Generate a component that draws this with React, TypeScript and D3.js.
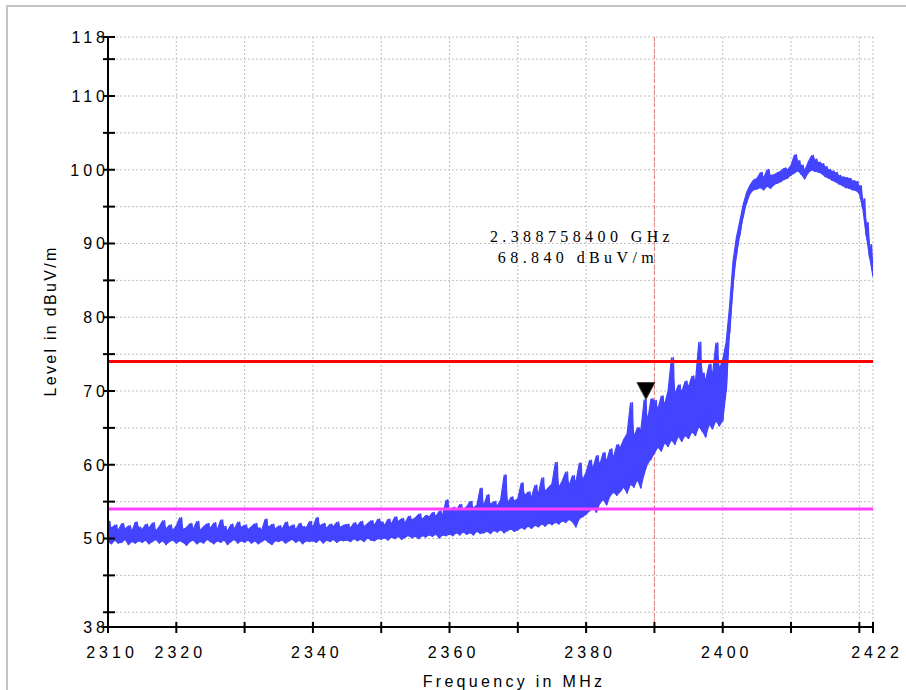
import React from "react";
import * as d3 from "d3";

// ---- data ----
const startFreq = 2310; // MHz
const stepFreq = 0.5; // MHz between samples

// lower edge of the noise band per 0.5 MHz (dBuV/m)
const floorLevels = [
  49.6, 49.3, 49.8, 49.4, 49.5, 49.9, 49.2, 49.6, 49.4, 49.7,
  49.5, 49.8, 49.3, 49.6, 49.9, 49.4, 49.7, 49.2, 49.6, 49.8,
  49.4, 49.7, 49.5, 49.1, 49.6, 49.8, 49.3, 49.6, 49.4, 49.9,
  49.6, 49.3, 49.7, 49.5, 49.8, 49.2, 49.6, 49.9, 49.4, 49.7,
  49.5, 49.8, 49.4, 49.7, 49.3, 49.6, 49.9, 49.5, 49.2, 49.7,
  49.6, 49.8, 49.4, 49.7, 49.9, 49.5, 49.8, 49.3, 49.7, 49.6,
  49.7, 49.5, 49.9, 49.4, 49.8, 49.6, 49.9, 49.5, 49.8, 49.7,
  49.8, 49.6, 50.0, 49.7, 49.9, 49.6, 50.1, 49.8, 49.7, 50.0,
  49.9, 50.1, 49.8, 50.2, 50.0, 50.3, 49.9, 50.2, 50.4, 50.1,
  50.3, 50.0, 50.4, 50.2, 50.5, 50.3, 50.6, 50.1, 50.5, 50.4,
  50.6, 50.4, 50.8, 50.5, 50.9, 50.6, 50.8, 50.5, 51.0, 50.7,
  50.8, 51.0, 50.7, 51.1, 50.9, 51.2, 50.8, 51.1, 51.3, 51.0,
  51.2, 51.5, 51.3, 51.7, 51.4, 51.8, 51.6, 52.0, 51.7, 52.1,
  51.9, 52.2, 52.0, 52.4, 52.2, 52.6, 52.3, 51.6, 52.7, 53.0,
  53.3, 53.8, 54.2, 53.6, 54.8, 55.3, 54.6, 55.8, 56.3, 55.9,
  56.4, 57.0, 56.2, 57.4, 57.0, 58.0, 56.9, 58.8, 60.2, 60.8,
  61.6, 62.4, 61.9, 63.0, 62.5, 63.4, 62.8, 63.9, 63.2, 64.0,
  63.6, 64.5, 64.0, 65.2, 64.6, 63.8, 65.5, 64.9, 66.0, 65.3,
  66.0, 70.0, 78.0, 84.5, 88.5, 91.2, 93.8, 95.6, 96.8, 97.3,
  97.4, 97.6, 97.3, 97.8, 97.5, 98.0, 98.2, 98.4, 98.7, 98.9,
  99.3, 99.6, 99.9, 99.4, 98.8, 99.6, 100.0, 99.8, 99.7, 99.5,
  99.1, 98.9, 98.6, 98.4, 98.1, 97.9, 97.6, 97.5, 97.3, 97.2,
  96.8, 94.8, 91.2, 88.2, 85.6,
];

// upper edge (peaks) of the noise band per 0.5 MHz (dBuV/m)
const peakLevels = [
  52.3, 51.4, 51.8, 51.1, 52.0, 51.3, 51.7, 51.0, 52.2, 51.5,
  51.2, 51.9, 51.4, 52.1, 51.0, 51.6, 52.4, 51.3, 51.8, 51.1,
  51.7, 52.8, 51.2, 51.5, 52.0, 51.3, 52.3, 51.1, 51.6, 52.0,
  51.4, 52.1, 51.2, 52.5, 51.6, 51.0, 51.9, 51.3, 52.2, 51.5,
  51.8, 51.2, 51.6, 52.0, 51.4, 51.1, 52.6, 51.5, 51.9, 51.3,
  51.7, 51.3, 52.2, 51.5, 51.8, 51.2, 52.0, 51.6, 51.4, 52.3,
  51.5, 52.8, 51.7, 52.0, 51.4, 51.9, 51.6, 52.2, 51.5, 51.8,
  51.9, 51.4, 52.1, 51.7, 52.3, 51.6, 52.0, 52.4, 51.8, 52.6,
  52.2, 51.8, 52.6, 52.0, 52.9, 52.3, 52.7, 52.1, 53.0, 52.5,
  52.8, 53.3, 52.6, 53.1, 52.9, 53.5, 53.0, 53.7, 53.2, 55.2,
  53.6, 54.2, 53.8, 54.6, 53.9, 54.3, 55.0, 54.1, 54.5, 56.8,
  54.3, 55.9, 54.6, 55.0, 54.4, 55.3, 58.6, 54.8, 55.6, 55.1,
  55.4, 57.5, 55.8, 56.3, 55.6, 57.2, 56.0, 58.2, 56.4, 56.9,
  57.4, 60.3, 56.9, 57.8, 59.0, 57.2, 58.5, 57.6, 60.2, 57.9,
  59.0, 60.6, 59.5, 61.2, 60.0, 61.6, 60.5, 62.1, 61.0, 62.7,
  62.3, 63.4, 64.2, 68.4, 63.8, 65.0, 64.6, 68.8, 66.0, 68.9,
  68.7, 67.5, 69.3, 68.2, 70.0, 74.5, 69.6, 70.8, 69.9, 71.3,
  70.6, 72.0, 71.2, 76.6, 72.4, 71.5, 73.6, 72.2, 76.5, 73.0,
  74.2, 76.6, 81.5, 87.5, 90.8, 93.0, 95.3, 96.9, 97.9, 98.6,
  98.8, 99.6, 98.9, 100.0, 99.2, 99.3, 99.6, 99.8, 100.2, 100.0,
  100.6, 102.0, 101.2, 100.6, 99.9, 101.0, 101.9, 101.4, 101.0, 100.8,
  100.4, 100.0, 99.8, 99.6, 99.2, 99.0, 98.9, 98.8, 98.5, 98.4,
  97.8, 96.0, 92.8, 89.8, 86.6,
];

const xTicks = [2310, 2320, 2330, 2340, 2350, 2360, 2370, 2380, 2390, 2400, 2410, 2420, 2422];
const xTickLabels = [2310, 2320, 2340, 2360, 2380, 2400, 2422];
const yTicks = [118, 115, 110, 105, 100, 95, 90, 85, 80, 75, 70, 65, 60, 55, 50, 45, 40, 38];
const yTickLabels = [118, 110, 100, 90, 80, 70, 60, 50, 38];

const limitLevels = [74, 54];
const limitColors = ["#ff0000", "#ff40ff"];
const markerFreq = 2388.7584;
const markerLevel = 68.84;
const markerLines = ["2.388758400 GHz", "68.840 dBuV/m"];
const displayLineFreq = 2390;

const xTitle = "Frequency in MHz";
const yTitle = "Level in dBuV/m";

// ---- layout ----
const W = 906;
const H = 690;
const left = 108;
const right = 873;
const top = 37;
const bottom = 627;

export default function App() {
  const x = d3.scaleLinear().domain([2310, 2422]).range([left, right]);
  const y = d3.scaleLinear().domain([38, 118]).range([bottom, top]);

  const samples = floorLevels.map((fl, i) => ({
    f: startFreq + i * stepFreq,
    lo: fl,
    hi: peakLevels[i],
  }));

  const pts: [number, number][] = [];
  samples.forEach((s) => {
    pts.push([x(s.f), y(s.lo)]);
    pts.push([x(s.f + stepFreq / 2), y(s.hi)]);
  });
  const tracePath = d3.line()(pts) || "";

  const bandPath =
    d3
      .area<{ f: number; lo: number; hi: number }>()
      .x((d) => x(d.f))
      .y0((d) => y(d.lo))
      .y1((d) => y(d.hi))(samples) || "";

  const mx = x(markerFreq);
  const my = y(markerLevel);

  const axisFont = "Arial, 'Liberation Sans', sans-serif";
  const traceColor = "#4444ff";

  return (
    <svg
      width={W}
      height={H}
      style={{ position: "absolute", left: 0, top: 0, background: "#fff" }}
    >
      <defs>
        <clipPath id="plotClip">
          <rect x={left} y={top - 2} width={right - left} height={bottom - top + 2} />
        </clipPath>
      </defs>
      <rect x={0} y={0} width={W} height={H} fill="#fff" />
      {/* outer frame */}
      <rect x={7} y={6} width={W + 20} height={H + 20} fill="none" stroke="#c4c4c4" strokeWidth={2} />

      {/* grid */}
      {yTicks
        .filter((t) => t !== 38)
        .map((t) => (
          <line
            key={"gy" + t}
            x1={left}
            x2={right}
            y1={y(t)}
            y2={y(t)}
            stroke="#c0c0c0"
            strokeWidth={1}
            strokeDasharray="2,2"
          />
        ))}
      {xTicks
        .filter((t) => t !== 2310)
        .map((t) => (
          <line
            key={"gx" + t}
            x1={x(t)}
            x2={x(t)}
            y1={top}
            y2={bottom}
            stroke="#c0c0c0"
            strokeWidth={1}
            strokeDasharray="2,2"
          />
        ))}

      {/* display line */}
      <line
        x1={x(displayLineFreq)}
        x2={x(displayLineFreq)}
        y1={top}
        y2={bottom}
        stroke="#f08080"
        strokeWidth={1}
        strokeDasharray="4,2"
      />

      {/* trace */}
      <g clipPath="url(#plotClip)">
        <path d={bandPath} fill={traceColor} stroke={traceColor} strokeWidth={1.2} strokeLinejoin="round" />
        <path d={tracePath} fill="none" stroke={traceColor} strokeWidth={1.8} strokeLinejoin="round" />
      </g>

      {/* limit lines */}
      {limitLevels.map((lv, i) => (
        <line
          key={"lim" + lv}
          x1={left}
          x2={right}
          y1={y(lv)}
          y2={y(lv)}
          stroke={limitColors[i]}
          strokeWidth={3}
        />
      ))}

      {/* marker */}
      <path
        d={`M${mx - 9},${my - 17} L${mx + 9},${my - 17} L${mx},${my} Z`}
        fill="#000"
        stroke="#444"
        strokeWidth={1}
      />
      <text
        fontFamily="'Liberation Serif', 'DejaVu Serif', serif"
        fontSize={16}
        letterSpacing={4.4}
        textAnchor="middle"
        fill="#000"
      >
        <tspan x={582} y={242}>
          {markerLines[0]}
        </tspan>
        <tspan x={578} y={263}>
          {markerLines[1]}
        </tspan>
      </text>

      {/* axes */}
      <line x1={left} x2={left} y1={top} y2={bottom + 1} stroke="#000" strokeWidth={2} />
      <line x1={left - 1} x2={right} y1={bottom} y2={bottom} stroke="#000" strokeWidth={2} />
      {yTicks.map((t) => (
        <line key={"ty" + t} x1={left - 5} x2={left + 7} y1={y(t)} y2={y(t)} stroke="#000" strokeWidth={2} />
      ))}
      {xTicks.map((t) => (
        <line key={"tx" + t} x1={x(t)} x2={x(t)} y1={bottom - 5} y2={bottom + 6} stroke="#000" strokeWidth={2} />
      ))}
      {yTickLabels.map((t) => (
        <text
          key={"ly" + t}
          x={left + 1}
          y={y(t)}
          dy="0.36em"
          textAnchor="end"
          fontFamily={axisFont}
          fontSize={16}
          letterSpacing={4}
          fill="#000"
        >
          {t}
        </text>
      ))}
      {xTickLabels.map((t) => (
        <text
          key={"lx" + t}
          x={x(t) + 4}
          y={658}
          textAnchor="middle"
          fontFamily={axisFont}
          fontSize={16}
          letterSpacing={4}
          fill="#000"
        >
          {t}
        </text>
      ))}

      {/* titles */}
      <text
        x={514}
        y={687}
        textAnchor="middle"
        fontFamily={axisFont}
        fontSize={16}
        letterSpacing={3.3}
        fill="#000"
      >
        {xTitle}
      </text>
      <text
        transform={`translate(56,${321}) rotate(-90)`}
        textAnchor="middle"
        fontFamily={axisFont}
        fontSize={16}
        letterSpacing={2.3}
        fill="#000"
      >
        {yTitle}
      </text>
    </svg>
  );
}
